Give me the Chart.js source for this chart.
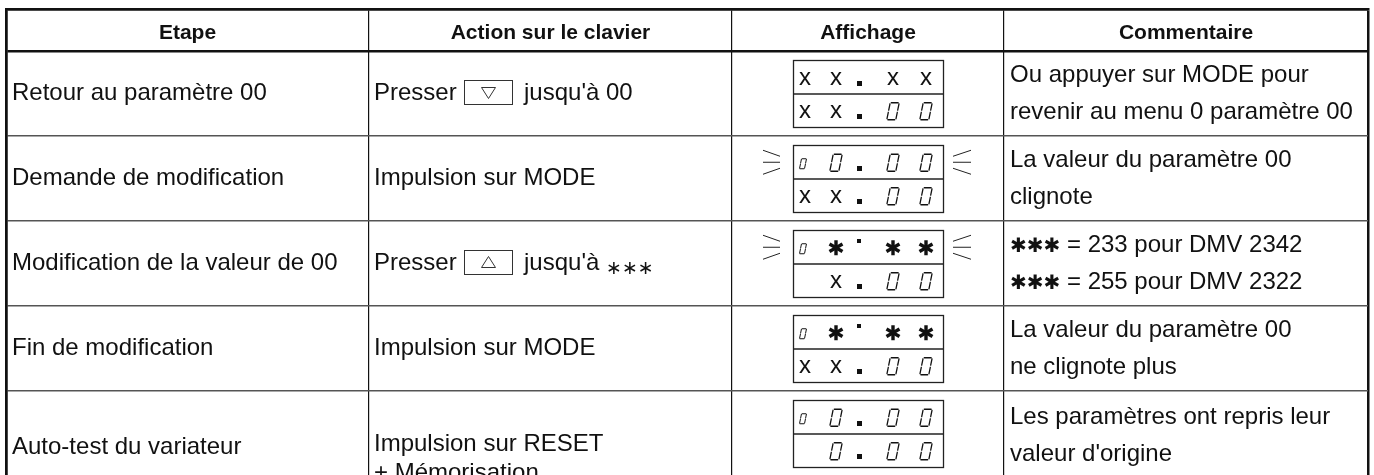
<!DOCTYPE html>
<html><head><meta charset="utf-8">
<script src="https://cdn.jsdelivr.net/npm/chart.js@4.4.1/dist/chart.umd.min.js"></script>
<style>html,body{margin:0;padding:0;background:#fff;overflow:hidden}</style>
</head><body>
<canvas id="c" width="1374" height="475"></canvas>
<script>
// ---- table content ----
const headers = ['Etape', 'Action sur le clavier', 'Affichage', 'Commentaire'];
const steps = ['Retour au paramètre 00', 'Demande de modification', 'Modification de la valeur de 00', 'Fin de modification', 'Auto-test du variateur'];
const actions = [
  ['Presser{down}jusqu\'à 00'],
  ['Impulsion sur MODE'],
  ['Presser{up}jusqu\'à {stars}'],
  ['Impulsion sur MODE'],
  ['Impulsion sur RESET', '+ Mémorisation']
];
const displayUpper = ['xx.xx', 'o0.00', 'o*^**', 'o*^**', 'o0.00'];
const displayLower = ['xx.00', 'xx.00', ' x.00', 'xx.00', ' 0.00'];
const blinking = [false, true, true, false, false];
const comments = [
  ['Ou appuyer sur MODE pour', 'revenir au menu 0 paramètre 00'],
  ['La valeur du paramètre 00', 'clignote'],
  ['{hstars} = 233 pour DMV 2342', '{hstars} = 255 pour DMV 2322'],
  ['La valeur du paramètre 00', 'ne clignote plus'],
  ['Les paramètres ont repris leur', 'valeur d\'origine']
];

// ---- layout (scale units / pixel offsets) ----
const colBounds = [0, 363, 726, 998, 1362];
const rowBounds = [0, 42, 127, 212, 297, 382, 467];
const stepDy = [6, 6, 6, 6, 20];             // baseline offset from row centre
const actionDy = [[6], [6], [6], [6], [17, 46]];
const commentDy = [[31, 68], [31, 68], [31, 68], [31, 68], [33, 70]]; // baseline from row top

const FONT = '"Liberation Sans", Arial, Helvetica, sans-serif';
const bodyFont = '24px ' + FONT;
const headFont = 'bold 21px ' + FONT;
const INK = '#111';

function drawRich(ctx, str, x, base) {
  const parts = str.split(/(\{\w+\})/).filter(p => p.length);
  let cx = x;
  for (const p of parts) {
    if (p === '{down}' || p === '{up}') {
      const bw = 48, bh = 24, bx = Math.round(cx + 7), by = Math.round(base - 8 - bh / 2);
      ctx.save();
      ctx.strokeStyle = '#333'; ctx.lineWidth = 1;
      ctx.strokeRect(bx + 0.5, by + 0.5, bw, bh);
      const tx = bx + bw / 2 + 0.5, ty = by + bh / 2 + 0.5;
      ctx.beginPath();
      if (p === '{down}') { ctx.moveTo(tx - 7, ty - 5); ctx.lineTo(tx + 7, ty - 5); ctx.lineTo(tx, ty + 6); }
      else { ctx.moveTo(tx - 7, ty + 5); ctx.lineTo(tx + 7, ty + 5); ctx.lineTo(tx, ty - 6); }
      ctx.closePath(); ctx.stroke();
      ctx.restore();
      cx = bx + bw + 12;
    } else if (p === '{stars}') {
      ctx.font = '19px "DejaVu Sans"';
      ctx.fillText('∗∗∗', cx, base + 4);
      cx += ctx.measureText('∗∗∗').width;
      ctx.font = bodyFont;
    } else if (p === '{hstars}') {
      ctx.font = 'bold 20px "DejaVu Sans"';
      ctx.fillText('✱✱✱', cx, base);
      cx += ctx.measureText('✱✱✱').width;
      ctx.font = bodyFont;
    } else {
      ctx.font = bodyFont;
      ctx.fillText(p, cx, base);
      cx += ctx.measureText(p).width;
    }
  }
}

function segZero(ctx, cx, cy, h, w, lw) {
  const slant = h * 0.2;
  const P = (u, v) => [cx - w / 2 + u * w + (0.5 - v) * slant, cy - h / 2 + v * h];
  const g = 0.12, gv = 0.06;
  const segs = [
    [[g, 0], [1 - g, 0]],
    [[1, gv], [1, 0.5 - gv]],
    [[1, 0.5 + gv], [1, 1 - gv]],
    [[g, 1], [1 - g, 1]],
    [[0, 0.5 + gv], [0, 1 - gv]],
    [[0, gv], [0, 0.5 - gv]]
  ];
  ctx.save(); ctx.lineWidth = lw; ctx.strokeStyle = INK; ctx.lineCap = 'round';
  for (const s of segs) {
    const a = P(...s[0]), b = P(...s[1]);
    ctx.beginPath(); ctx.moveTo(a[0], a[1]); ctx.lineTo(b[0], b[1]); ctx.stroke();
  }
  ctx.restore();
}

function heavyStar(ctx, cx, cy, r) {
  ctx.save(); ctx.strokeStyle = INK; ctx.lineWidth = 3.4; ctx.lineCap = 'butt';
  for (let k = 0; k < 3; k++) {
    const a = Math.PI / 2 + k * Math.PI / 3;
    ctx.beginPath();
    ctx.moveTo(cx + r * Math.cos(a), cy + r * Math.sin(a));
    ctx.lineTo(cx - r * Math.cos(a), cy - r * Math.sin(a));
    ctx.stroke();
  }
  ctx.restore();
}

const slotX = [12, 43, 66, 100, 133];

function drawDisplayLine(ctx, str, left, cy) {
  for (let i = 0; i < str.length; i++) {
    const ch = str[i], x = left + slotX[i];
    if (ch === 'x') {
      ctx.font = '24px ' + FONT; ctx.textAlign = 'center'; ctx.textBaseline = 'alphabetic';
      ctx.fillText('x', x, cy + 8);
    } else if (ch === '.') {
      ctx.fillRect(Math.round(x - 2.5), Math.round(cy + 4), 5, 5);
    } else if (ch === '^') {
      ctx.fillRect(Math.round(x - 2), Math.round(cy - 8), 4, 4);
    } else if (ch === '0') {
      segZero(ctx, x, cy + 1, 17, 9, 1.3);
    } else if (ch === 'o') {
      segZero(ctx, x - 2, cy + 2, 10, 5, 1);
    } else if (ch === '*') {
      heavyStar(ctx, x, cy + 1, 7.5);
    }
  }
  ctx.textAlign = 'left';
}

function chevrons(ctx, boxL, boxR, cy) {
  ctx.save(); ctx.strokeStyle = '#222'; ctx.lineWidth = 1;
  let a = boxL - 30, b = boxL - 13;
  [[-12, -6], [0, 0], [12, 6]].forEach(([o, i]) => { ctx.beginPath(); ctx.moveTo(a, cy + o + 0.5); ctx.lineTo(b, cy + i + 0.5); ctx.stroke(); });
  a = boxR + 10; b = boxR + 28;
  [[-6, -12], [0, 0], [6, 12]].forEach(([i, o]) => { ctx.beginPath(); ctx.moveTo(a, cy + i + 0.5); ctx.lineTo(b, cy + o + 0.5); ctx.stroke(); });
  ctx.restore();
}

const tablePlugin = {
  id: 'tableCells',
  afterDraw(chart) {
    const ctx = chart.ctx, xs = chart.scales.x, ys = chart.scales.y;
    const X = v => xs.getPixelForValue(v), Y = v => ys.getPixelForValue(v);
    ctx.save();
    ctx.fillStyle = INK;
    // headers
    ctx.font = headFont; ctx.textAlign = 'center'; ctx.textBaseline = 'middle';
    const hc = (Y(rowBounds[0]) + Y(rowBounds[1])) / 2;
    headers.forEach((h, i) => ctx.fillText(h, (X(colBounds[i]) + X(colBounds[i + 1])) / 2, hc + 3));
    for (let r = 0; r < steps.length; r++) {
      const top = Y(rowBounds[r + 1]), bot = Y(rowBounds[r + 2]);
      const cy = (top + bot) / 2;
      ctx.textAlign = 'left'; ctx.textBaseline = 'alphabetic'; ctx.font = bodyFont;
      // step
      ctx.fillText(steps[r], X(colBounds[0]) + 6, cy + stepDy[r]);
      // action
      const ax = X(colBounds[1]) + 5;
      actions[r].forEach((line, k) => drawRich(ctx, line, ax, cy + actionDy[r][k]));
      // comment
      const cx0 = X(colBounds[3]) + 6;
      comments[r].forEach((line, k) => drawRich(ctx, line, cx0, top + commentDy[r][k]));
      // display
      const colC = (X(colBounds[2]) + X(colBounds[3])) / 2;
      const bw = 150, bh = 67;
      const bl = Math.round(colC - bw / 2), bt = Math.round(cy - bh / 2);
      ctx.save(); ctx.strokeStyle = '#222'; ctx.lineWidth = 1.3;
      ctx.strokeRect(bl + 0.5, bt + 0.5, bw, bh);
      ctx.beginPath(); ctx.moveTo(bl, bt + bh / 2 + 0.5); ctx.lineTo(bl + bw, bt + bh / 2 + 0.5); ctx.stroke();
      ctx.restore();
      drawDisplayLine(ctx, displayUpper[r], bl, bt + bh / 4);
      drawDisplayLine(ctx, displayLower[r], bl, bt + 3 * bh / 4);
      if (blinking[r]) chevrons(ctx, bl, bl + bw, bt + bh / 4);
    }
    ctx.restore();
  }
};

new Chart(document.getElementById('c'), {
  type: 'scatter',
  data: { datasets: [{ data: [], showLine: false }] },
  options: {
    responsive: false, animation: false, devicePixelRatio: 1,
    layout: { padding: { left: 6, top: 9, right: 6, bottom: 0 } },
    plugins: { legend: { display: false }, tooltip: { enabled: false } },
    scales: {
      x: {
        type: 'linear', position: 'top', min: 0, max: 1362,
        afterBuildTicks: s => { s.ticks = colBounds.map(v => ({ value: v })); },
        ticks: { display: false },
        grid: { drawTicks: false, color: '#111', lineWidth: c => (c.index === 0 || c.index === colBounds.length - 1) ? 2.5 : 1.2 },
        border: { display: true, color: '#111', width: 2.5 }
      },
      y: {
        type: 'linear', reverse: true, min: 0, max: 466,
        afterBuildTicks: s => { s.ticks = rowBounds.slice(0, 6).map(v => ({ value: v })); },
        ticks: { display: false },
        grid: { drawTicks: false, color: c => c.index <= 1 ? '#111' : '#555', lineWidth: c => c.index <= 1 ? 2.5 : 1.6 },
        border: { display: true, color: '#111', width: 2.5 }
      }
    }
  },
  plugins: [tablePlugin]
});
</script>
</body></html>
